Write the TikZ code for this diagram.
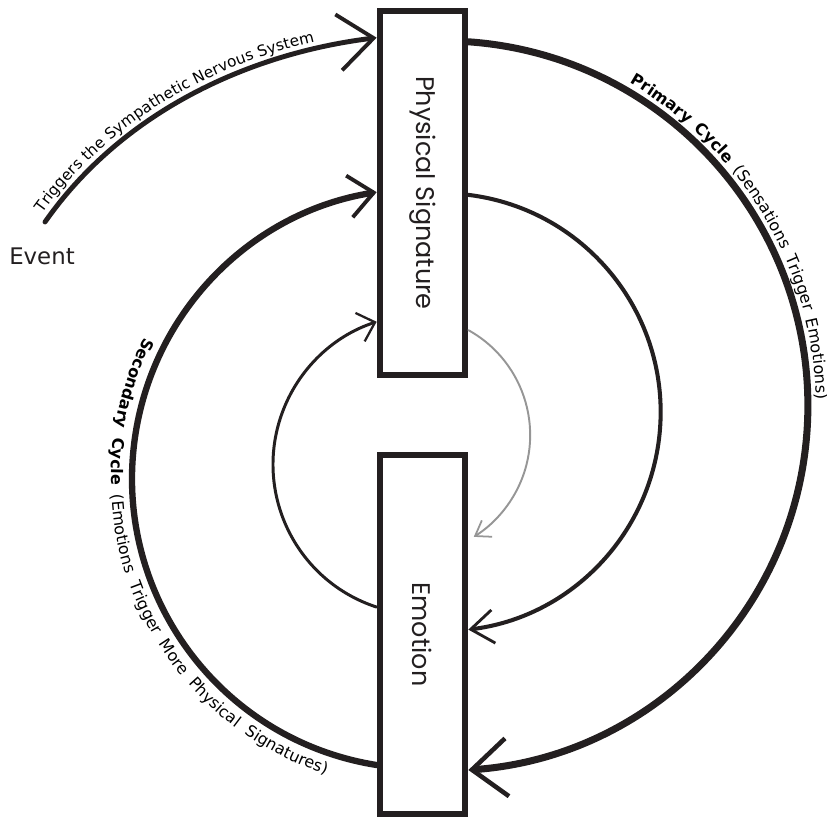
\documentclass[tikz,border=0pt]{standalone}
\usepackage{fontspec}
\newfontfamily\notefont{DejaVu Sans}
\newfontfamily\boxfont{Poppins}
\usetikzlibrary{arrows.meta, calc, decorations.text}
\definecolor{inkBlack}{RGB}{35,31,32}
\definecolor{inkGray}{RGB}{150,150,150}
\newcommand{\tagfont}{\notefont\fontsize{8.7}{10}\selectfont}
\newcommand{\loopfont}{\notefont\fontsize{9.1}{11}\selectfont}

\begin{document}
\begin{tikzpicture}[x=0.02cm, y=0.02cm, inkBlack,
    box/.style={draw=inkBlack, fill=white, line width=3.8pt, minimum width=1.7cm},
    boxtext/.style={rotate=-90, font=\boxfont\fontsize{14.5}{17}\selectfont},
    loopline/.style={draw=inkBlack, line cap=round}]
  \useasboundingbox (0,0) rectangle (827,822);

  % the two boxes
  \node[box, minimum height=7.28cm] (ps) at (422.5,629) {};
  \node[boxtext] (psText) at (ps.center) {Physical Signature};
  \node[box, minimum height=7.18cm] (em) at (422.5,187.5) {};
  \node[boxtext] (emText) at (em.center) {Emotion};

  \node[font=\notefont\fontsize{13}{16}\selectfont] (ev) at (42,566) {Event};

  % where the loops meet the boxes
  \coordinate (pcA) at ($(ps.north east)!0.092!(ps.south east)$);
  \coordinate (mcA) at ($(ps.north east)!0.505!(ps.south east)$);
  \coordinate (gcA) at ($(ps.north east)!0.87!(ps.south east)$);
  \coordinate (tgEnd) at ($(ps.north west)!0.081!(ps.south west)$);
  \coordinate (scA) at ($(em.north west)!0.857!(em.south west)$);
  \coordinate (icA) at ($(em.north west)!0.425!(em.south west)$);
  \coordinate (tg) at (45,600);

  % Event -> Physical Signature
  \draw[loopline, line width=2.8pt, -{Straight Barb[length=20pt, width=32pt, line width=2.2pt]},
    postaction={decorate, decoration={text along path, raise=4pt,
      text={|\tagfont|Triggers the Sympathetic Nervous System}, text align={left indent=3pt}}}]
    (tg) to[out=55, in=187, looseness=0.89] (tgEnd);

  % Primary cycle
  \draw[loopline, line width=4pt, -{Straight Barb[length=20pt, width=33pt, line width=2.6pt]}]
    (pcA) arc[start angle=86, end angle=-86, radius=365];
  \path[decorate, decoration={text along path,
      text={|\loopfont\bfseries|Primary Cycle|\loopfont| (Sensations Trigger Emotions)},
      text align={fit to path stretching spaces}}]
    (pcA) ++(266:365) ++(60:373) arc[start angle=60, end angle=1, radius=373];

  % Secondary cycle
  \draw[loopline, line width=3.6pt, -{Straight Barb[length=14pt, width=24pt, line width=2.2pt]}]
    (scA) arc[start angle=261, end angle=99, radius=290];
  \path[decorate, decoration={text along path,
      text={|\loopfont\bfseries|Secondary Cycle|\loopfont| (Emotions Trigger More Physical Signatures)},
      text align={fit to path stretching spaces}}]
    (scA) ++(81:290) ++(153:311) arc[start angle=153, end angle=252, radius=311];

  % inner loops
  \draw[loopline, line width=2.3pt, -{Straight Barb[length=13pt, width=19pt, line width=1.6pt]}]
    (mcA) arc[start angle=83, end angle=-83, radius=219];
  \draw[loopline, line width=1.7pt, -{Straight Barb[length=9pt, width=17pt, line width=1.3pt]}]
    (icA) arc[start angle=252, end angle=108, radius=150];
  \draw[loopline, draw=inkGray, inkGray, line width=1.1pt, -{Straight Barb[length=8pt, width=11pt, line width=1pt]}]
    (gcA) arc[start angle=61, end angle=-58, radius=120];
\end{tikzpicture}
\end{document}
